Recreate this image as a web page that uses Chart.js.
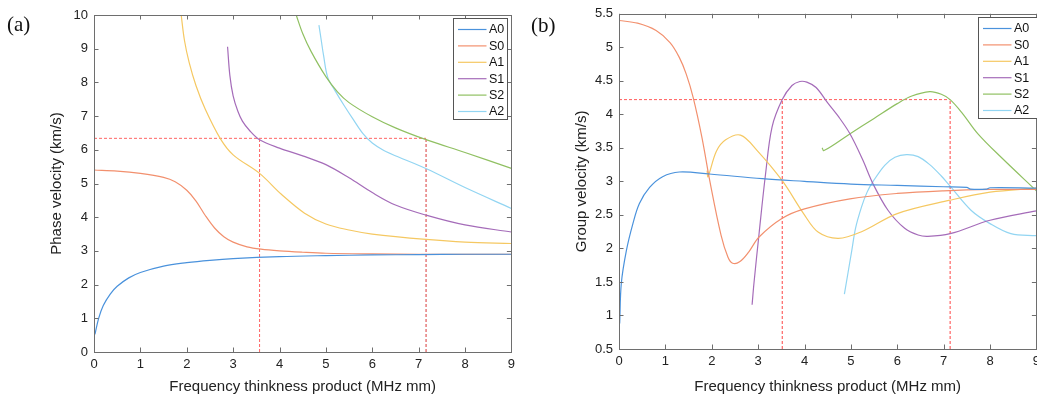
<!DOCTYPE html>
<html>
<head>
<meta charset="utf-8">
<script src="https://cdn.jsdelivr.net/npm/chart.js@4.4.1/dist/chart.umd.min.js"></script>
<style>
  html, body { margin: 0; padding: 0; background: #fff; overflow: hidden; }
  body { width: 1037px; height: 396px; position: relative; }
  .panel { position: absolute; top: 0; height: 396px; }
  .tag { position: absolute; font-family: "Liberation Serif", "Times New Roman", serif; font-size: 21px; color: #111; }
</style>
</head>
<body>
<div class="panel" style="left:0;width:520px"><canvas id="phaseChart" width="520" height="396"></canvas></div>
<div class="panel" style="left:520px;width:525px"><canvas id="groupChart" width="525" height="396"></canvas></div>
<div class="tag" style="left:7px;top:12px">(a)</div>
<div class="tag" style="left:531px;top:13px">(b)</div>
<script>
// Mode names and colours
const modeNames = ['A0', 'S0', 'A1', 'S1', 'S2', 'A2'];
const modeColors = ['#4a92dc', '#f2906e', '#f5c862', '#a56cb9', '#90c062', '#92d5f2'];

// (a) phase velocity curves, km/s vs MHz mm
const phaseA0X = [0.02, 0.1, 0.2, 0.35, 0.5, 0.75, 1, 1.5, 2, 2.5, 3, 4, 5, 6, 7, 8, 9];
const phaseA0Y = [0.52, 1.0, 1.38, 1.72, 1.95, 2.2, 2.36, 2.55, 2.65, 2.72, 2.77, 2.83, 2.86, 2.88, 2.89, 2.9, 2.9];
const phaseS0X = [0, 0.5, 1, 1.5, 1.75, 2.0, 2.2, 2.4, 2.6, 2.8, 3.0, 3.3, 3.6, 4, 4.5, 5, 6, 7, 9];
const phaseS0Y = [5.4, 5.37, 5.3, 5.18, 5.05, 4.8, 4.48, 4.05, 3.68, 3.42, 3.26, 3.12, 3.05, 3.0, 2.96, 2.93, 2.91, 2.9, 2.9];
const phaseA1X = [1.88, 1.95, 2.05, 2.2, 2.4, 2.72, 3.0, 3.57, 4.04, 4.54, 5.0, 5.5, 6.0, 7.16, 8, 9];
const phaseA1Y = [10, 9.25, 8.6, 7.9, 7.2, 6.34, 5.85, 5.3, 4.68, 4.12, 3.8, 3.62, 3.5, 3.34, 3.26, 3.22];
const phaseS1X = [2.88, 2.93, 3.0, 3.1, 3.2, 3.35, 3.57, 4.0, 4.5, 5.0, 5.5, 6.0, 6.5, 7.16, 8, 9];
const phaseS1Y = [9.06, 8.2, 7.6, 7.15, 6.85, 6.58, 6.3, 6.05, 5.82, 5.56, 5.17, 4.73, 4.36, 4.06, 3.77, 3.56];
const phaseS2X = [4.36, 4.5, 4.68, 5.0, 5.25, 5.5, 6.0, 6.5, 7.16, 8, 9];
const phaseS2Y = [10, 9.45, 8.92, 8.17, 7.72, 7.4, 6.98, 6.65, 6.3, 5.92, 5.45];
const phaseA2X = [4.85, 4.9, 4.95, 5.04, 5.2, 5.4, 5.6, 5.8, 6.0, 6.25, 6.54, 7.18, 8, 9];
const phaseA2Y = [9.7, 9.25, 8.8, 8.15, 7.75, 7.3, 6.88, 6.48, 6.2, 5.98, 5.8, 5.43, 4.88, 4.26];

// (a) red dashed guide lines
const phaseGuideHX = [0, 7.16];
const phaseGuideHY = [6.34, 6.34];
const phaseGuideV1X = [3.57, 3.57];
const phaseGuideV1Y = [0, 6.3];
const phaseGuideV2X = [7.16, 7.16];
const phaseGuideV2Y = [0, 6.34];

// (b) group velocity curves
const groupA0X = [0.015, 0.05, 0.16, 0.3, 0.44, 0.66, 0.94, 1.3, 1.95, 3.09, 4, 5, 6, 7, 7.5, 7.58, 7.92, 8.0, 9];
const groupA0Y = [0.88, 1.48, 1.97, 2.37, 2.67, 2.91, 3.07, 3.14, 3.11, 3.04, 3.0, 2.96, 2.94, 2.92, 2.91, 2.885, 2.885, 2.905, 2.9];
const groupS0X = [0, 0.4, 0.8, 1.1, 1.3, 1.45, 1.6, 1.79, 1.96, 2.2, 2.35, 2.45, 2.6, 2.8, 3.02, 3.52, 4, 4.98, 6, 7, 8, 9];
const groupS0Y = [5.4, 5.36, 5.25, 5.07, 4.85, 4.6, 4.25, 3.65, 3.0, 2.2, 1.87, 1.78, 1.8, 1.95, 2.17, 2.45, 2.59, 2.74, 2.82, 2.86, 2.88, 2.88];
const groupA1X = [1.9, 1.92, 2.1, 2.3, 2.62, 2.98, 3.52, 3.98, 4.3, 4.73, 5.23, 6, 7.14, 8, 9];
const groupA1Y = [3.16, 3.07, 3.45, 3.62, 3.69, 3.46, 3.01, 2.52, 2.24, 2.15, 2.25, 2.52, 2.72, 2.84, 2.9];
const groupS1X = [2.87, 2.91, 3.02, 3.16, 3.3, 3.52, 3.73, 3.9, 4.05, 4.25, 4.5, 4.75, 4.98, 5.25, 5.48, 5.8, 6.16, 6.45, 6.66, 7.14, 8, 9];
const groupS1Y = [1.16, 1.48, 2.22, 3.11, 3.81, 4.22, 4.43, 4.49, 4.48, 4.4, 4.17, 3.95, 3.71, 3.33, 2.96, 2.57, 2.3, 2.2, 2.18, 2.22, 2.42, 2.56];
const groupS2X = [4.38, 4.42, 5.0, 5.5, 6.0, 6.3, 6.7, 6.95, 7.14, 7.4, 7.74, 8.24, 9];
const groupS2Y = [3.5, 3.46, 3.72, 3.94, 4.16, 4.27, 4.34, 4.3, 4.22, 4.02, 3.71, 3.36, 2.86];
const groupA2X = [4.86, 5.02, 5.1, 5.23, 5.35, 5.48, 5.73, 5.95, 6.2, 6.45, 6.7, 6.95, 7.14, 7.59, 8, 8.45, 9];
const groupA2Y = [1.32, 1.97, 2.3, 2.62, 2.84, 3.0, 3.24, 3.36, 3.4, 3.37, 3.25, 3.08, 2.93, 2.57, 2.37, 2.22, 2.19];

// (b) red dashed guide lines
const groupGuideHX = [0, 7.14];
const groupGuideHY = [4.22, 4.22];
const groupGuideV1X = [3.52, 3.52];
const groupGuideV1Y = [0.5, 4.22];
const groupGuideV2X = [7.14, 7.14];
const groupGuideV2Y = [0.5, 4.22];

const FONT = '"Liberation Sans", Arial, Helvetica, sans-serif';

function pts(xs, ys) {
    return xs.map((x, i) => ({ x: x, y: ys[i] }));
}

function curve(i, xs, ys) {
    return {
        label: modeNames[i],
        data: pts(xs, ys),
        borderColor: modeColors[i],
        borderWidth: 1.2,
        pointRadius: 0,
        tension: 0.35,
        fill: false
    };
}

function guide(xs, ys, color) {
    return {
        label: '',
        isGuide: true,
        data: pts(xs, ys),
        borderColor: color,
        borderWidth: 1,
        borderDash: [3, 2],
        pointRadius: 0,
        tension: 0,
        fill: false
    };
}

// MATLAB style box with inward ticks, plus an inset legend
const boxPlugin = {
    id: 'matlabBox',
    afterDatasetsDraw(chart, args, opts) {
        const ctx = chart.ctx;
        const a = chart.chartArea;
        const xs = chart.scales.x;
        const ys = chart.scales.y;
        const tl = 4.5;
        ctx.save();
        ctx.strokeStyle = '#6e6e6e';
        ctx.lineWidth = 1;
        ctx.beginPath();
        xs.ticks.forEach(t => {
            const px = Math.round(xs.getPixelForValue(t.value)) + 0.5;
            ctx.moveTo(px, a.bottom); ctx.lineTo(px, a.bottom - tl);
            ctx.moveTo(px, a.top); ctx.lineTo(px, a.top + tl);
        });
        ys.ticks.forEach(t => {
            const py = Math.round(ys.getPixelForValue(t.value)) + 0.5;
            ctx.moveTo(a.left, py); ctx.lineTo(a.left + tl, py);
            ctx.moveTo(a.right, py); ctx.lineTo(a.right - tl, py);
        });
        ctx.stroke();
        ctx.strokeRect(Math.round(a.left) + 0.5, Math.round(a.top) + 0.5,
            Math.round(a.right - a.left), Math.round(a.bottom - a.top));

        // legend
        const w = opts.legendWidth || 54;
        const rowH = 16.4;
        const bx = Math.round(a.right - 4 - 54) + 0.5;
        const by = Math.round(a.top + 3) + 0.5;
        const h = 101;
        ctx.fillStyle = '#fff';
        ctx.fillRect(bx, by, w, h);
        ctx.strokeStyle = '#555';
        ctx.strokeRect(bx, by, w, h);
        ctx.font = '12.5px ' + FONT;
        ctx.textBaseline = 'middle';
        ctx.textAlign = 'left';
        let row = 0;
        chart.data.datasets.forEach(ds => {
            if (ds.isGuide) return;
            const cy = by + 11 + row * rowH;
            ctx.strokeStyle = ds.borderColor;
            ctx.lineWidth = 1.2;
            ctx.beginPath();
            ctx.moveTo(bx + 4.5, cy);
            ctx.lineTo(bx + 33, cy);
            ctx.stroke();
            ctx.fillStyle = '#111';
            ctx.fillText(ds.label, bx + 35.5, cy + 0.5);
            row++;
        });
        ctx.restore();
    }
};

function makeChart(id, datasets, yMin, yMax, yStep, yTitle, pad, yWidth, xHeight, yTitlePad, legendWidth) {
    return new Chart(document.getElementById(id), {
        type: 'line',
        data: { datasets: datasets },
        options: {
            responsive: false,
            animation: false,
            layout: { autoPadding: false, padding: pad },
            plugins: {
                legend: { display: false },
                tooltip: { enabled: false },
                matlabBox: { legendWidth: legendWidth }
            },
            scales: {
                x: {
                    type: 'linear',
                    min: 0,
                    max: 9,
                    grid: { display: false, drawTicks: false },
                    border: { display: false },
                    ticks: { stepSize: 1, padding: 5, color: '#222', font: { family: FONT, size: 13 } },
                    title: {
                        display: true,
                        text: 'Frequency thinkness product (MHz mm)',
                        color: '#222',
                        font: { family: FONT, size: 15 },
                        padding: { top: 0, bottom: 0 }
                    },
                    afterFit(scale) { scale.height = xHeight; }
                },
                y: {
                    type: 'linear',
                    min: yMin,
                    max: yMax,
                    grid: { display: false, drawTicks: false },
                    border: { display: false },
                    ticks: {
                        stepSize: yStep,
                        padding: 6,
                        color: '#222',
                        font: { family: FONT, size: 13 },
                        callback: v => String(Math.round(v * 10) / 10)
                    },
                    title: {
                        display: true,
                        text: yTitle,
                        color: '#222',
                        font: { family: FONT, size: 15 },
                        padding: { top: yTitlePad, bottom: 0 }
                    },
                    afterFit(scale) { scale.width = yWidth; }
                }
            }
        },
        plugins: [boxPlugin]
    });
}

makeChart('phaseChart', [
    curve(0, phaseA0X, phaseA0Y),
    curve(1, phaseS0X, phaseS0Y),
    curve(2, phaseA1X, phaseA1Y),
    curve(3, phaseS1X, phaseS1Y),
    curve(4, phaseS2X, phaseS2Y),
    curve(5, phaseA2X, phaseA2Y),
    guide(phaseGuideHX, phaseGuideHY, '#ff6464'),
    guide(phaseGuideV1X, phaseGuideV1Y, '#ff6464'),
    guide(phaseGuideV2X, phaseGuideV2Y, '#d93a3a')
], 0, 10, 1, 'Phase velocity (km/s)', { left: 0, right: 1, top: 15, bottom: 0 }, 94, 44, 48, 54);

makeChart('groupChart', [
    curve(0, groupA0X, groupA0Y),
    curve(1, groupS0X, groupS0Y),
    curve(2, groupA1X, groupA1Y),
    curve(3, groupS1X, groupS1Y),
    curve(4, groupS2X, groupS2Y),
    curve(5, groupA2X, groupA2Y),
    guide(groupGuideHX, groupGuideHY, '#ff5a5a'),
    guide(groupGuideV1X, groupGuideV1Y, '#ff4545'),
    guide(groupGuideV2X, groupGuideV2Y, '#ff4545')
], 0.5, 5.5, 0.5, 'Group velocity (km/s)', { left: 0, right: 3, top: 13, bottom: 0 }, 99, 47, 53, 60);
</script>
</body>
</html>
